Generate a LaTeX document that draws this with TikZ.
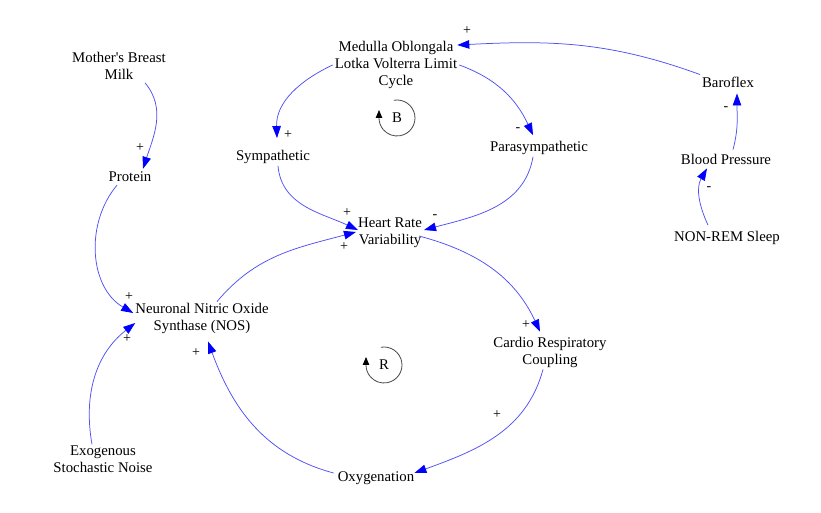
\documentclass[tikz,border=0pt]{standalone}
\usepackage{fontspec}
\setmainfont{Liberation Serif}
\usetikzlibrary{arrows.meta}
\definecolor{linkblue}{RGB}{80,80,245}
\definecolor{tipblue}{RGB}{0,0,255}
\definecolor{loopgray}{RGB}{70,70,70}
\begin{document}
\begin{tikzpicture}[x=1pt,y=1pt,
  var/.style={inner sep=2pt, align=center, font=\fontsize{14.8}{17}\selectfont},
  link/.style={draw=linkblue, line width=0.75pt, -{Triangle[length=12pt,width=8.5pt,color=tipblue]}},
  pol/.style={inner sep=0pt, font=\fontsize{14}{14}\selectfont},
  loopmark/.style={draw=loopgray, line width=0.8pt, -{Triangle[length=8pt,width=6.5pt,color=black]}}
]
\path[use as bounding box] (0,0) rectangle (821,513);

% variables
\node[var] (med) at (396,448) {Medulla Oblongala\\Lotka Volterra Limit\\Cycle};
\node[var] (milk) at (119,447) {Mother\textquotesingle s Breast\\Milk};
\node[var] (prot) at (130,336) {Protein};
\node[var] (symp) at (273,356) {Sympathetic};
\node[var] (para) at (539,365) {Parasympathetic};
\node[var] (hrv) at (390,280) {Heart Rate\\Variability};
\node[var] (baro) at (728,431) {Baroflex};
\node[var] (bp) at (726,354) {Blood Pressure};
\node[var] (nrem) at (727,275) {NON-REM Sleep};
\node[var] (nos) at (202,195) {Neuronal Nitric Oxide\\Synthase (NOS)};
\node[var] (cardio) at (550,161) {Cardio Respiratory\\Coupling};
\node[var] (exo) at (103,54) {Exogenous\\Stochastic Noise};
\node[var] (oxy) at (376,35) {Oxygenation};

% loop markers
\node[var] (loopB) at (397,395) {B};
\draw[loopmark] ([shift={(100:18)}]loopB.center) arc[start angle=100, end angle=-180, radius=18] -- ++(0,8);
\node[var] (loopR) at (384,148) {R};
\draw[loopmark] ([shift={(100:18)}]loopR.center) arc[start angle=100, end angle=-180, radius=18] -- ++(0,8);

% links
\draw[link] (baro.north west) to[out=160,in=3] ([shift={(-2,-6)}]med.north east);
\draw[link] (med.west) to[out=205,in=92] ([shift={(4,10)}]symp.north);
\draw[link] (med.east) to[out=-20,in=115] ([shift={(-6,4)}]para.north);
\draw[link] ([shift={(5,0)}]symp.south) to[out=-85,in=155] ([shift={(2,3)}]hrv.west);
\draw[link] ([shift={(-6,0)}]para.south) to[out=-100,in=15] ([shift={(0,3)}]hrv.east);
\draw[link] ([shift={(15,-1)}]nos.north) to[out=50,in=195] ([shift={(0,1)}]hrv.west);
\draw[link] ([shift={(-5,-3)}]hrv.east) to[out=-15,in=115] ([shift={(-10,3)}]cardio.north);
\draw[link] ([shift={(-7,0)}]cardio.south) to[out=-105,in=20] ([shift={(-2,5)}]oxy.east);
\draw[link] ([shift={(-2,5)}]oxy.west) to[out=165,in=-70] ([shift={(6,-6)}]nos.south);
\draw[link] ([shift={(26,-1)}]milk.south) to[out=-50,in=72] ([shift={(13,1)}]prot.north);
\draw[link] ([shift={(-13,-1)}]prot.south) to[out=-130,in=150] ([shift={(0,5)}]nos.west);
\draw[link] ([shift={(-11,-1)}]exo.north) to[out=100,in=218] ([shift={(2,-5)}]nos.west);
\draw[link] ([shift={(7,2)}]bp.north) to[out=75,in=-90] ([shift={(9,-4)}]baro.south);
\draw[link] ([shift={(-19,4)}]nrem.north) to[out=115,in=-120] ([shift={(-19,-2)}]bp.south);

% polarities
\node[pol] (p1) at (467,482) {+};
\node[pol] (p2) at (288,378) {+};
\node[pol] (p3) at (518,383) {-};
\node[pol] (p4) at (347,300) {+};
\node[pol] (p5) at (435,296) {-};
\node[pol] (p6) at (344,266) {+};
\node[pol] (p7) at (526,188) {+};
\node[pol] (p8) at (497,98) {+};
\node[pol] (p9) at (196,160) {+};
\node[pol] (p10) at (140,365) {+};
\node[pol] (p11) at (129,216) {+};
\node[pol] (p12) at (127,174) {+};
\node[pol] (p13) at (726,404) {-};
\node[pol] (p14) at (709,324) {-};
\end{tikzpicture}
\end{document}
